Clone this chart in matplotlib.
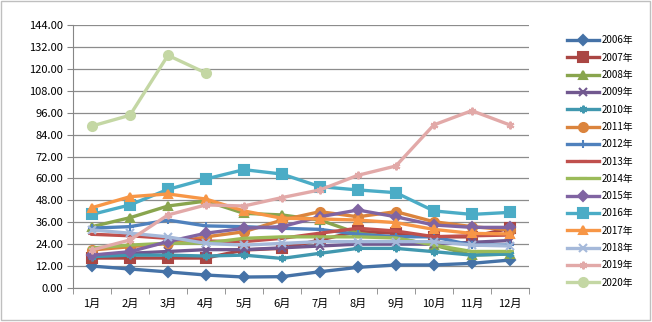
import numpy as np
import matplotlib.pyplot as plt
from matplotlib.patches import Rectangle

plt.rcParams['font.family'] = ['Noto Sans CJK SC', 'DejaVu Sans']

# 월 / 연도
months = ['1月', '2月', '3月', '4月', '5月', '6月', '7月', '8月', '9月', '10月', '11月', '12月']
years = ['2006年', '2007年', '2008年', '2009年', '2010年', '2011年', '2012年', '2013年',
         '2014年', '2015年', '2016年', '2017年', '2018年', '2019年', '2020年']

# 연도별 값
v2006 = [12.0, 10.4, 8.8, 7.1, 6.0, 6.2, 8.9, 11.3, 12.6, 12.6, 13.5, 15.3]
v2007 = [16.4, 16.4, 16.4, 16.4, 20.8, 21.7, 26.3, 31.0, 30.0, 28.0, 28.0, 32.7]
v2008 = [33.6, 38.5, 44.9, 47.6, 40.9, 40.0, 37.2, 30.0, 27.4, 23.5, 18.0, 18.6]
v2009 = [18.0, 19.0, 20.0, 21.0, 21.0, 22.0, 23.0, 24.0, 24.0, 24.0, 25.0, 26.0]
v2010 = [17.2, 18.0, 18.0, 17.5, 18.0, 16.2, 19.0, 21.7, 21.7, 19.9, 18.0, 18.6]
v2011 = [20.8, 22.6, 24.4, 28.0, 30.8, 37.2, 41.8, 39.0, 41.8, 36.3, 33.6, 31.8]
v2012 = [32.8, 33.6, 37.2, 34.0, 33.6, 32.7, 32.1, 29.4, 28.1, 28.0, 23.5, 23.5]
v2013 = [29.4, 28.6, 27.2, 25.7, 25.4, 27.2, 30.0, 32.7, 31.2, 28.1, 28.6, 29.0]
v2014 = [21.9, 23.5, 24.5, 24.6, 27.2, 28.0, 28.0, 28.0, 27.4, 23.5, 20.0, 20.0]
v2015 = [18.0, 19.9, 25.4, 30.0, 32.7, 33.6, 39.0, 42.7, 39.0, 34.5, 33.2, 33.2]
v2016 = [40.3, 45.5, 54.0, 59.7, 64.8, 62.4, 55.5, 53.7, 52.2, 42.2, 40.3, 41.4]
v2017 = [44.0, 50.0, 51.5, 48.7, 42.2, 38.2, 37.8, 37.2, 35.8, 32.1, 29.9, 29.6]
v2018 = [31.8, 30.0, 28.0, 24.4, 23.5, 24.4, 25.4, 25.4, 25.4, 25.4, 23.5, 23.0]
v2019 = [20.8, 26.3, 40.0, 45.5, 44.9, 49.5, 53.7, 61.7, 66.8, 89.3, 97.1, 89.3]
v2020 = [88.7, 94.6, 127.4, 117.7]

values = [v2006, v2007, v2008, v2009, v2010, v2011, v2012, v2013,
          v2014, v2015, v2016, v2017, v2018, v2019, v2020]

colors = ['#4572A7', '#AA4643', '#89A54E', '#71588F', '#4198AF', '#DB843D', '#4F81BD', '#C0504D',
          '#9BBB59', '#8064A2', '#4BACC6', '#F79646', '#A5B9DA', '#E2A9A8', '#C4D7A4']
markers = ['D', 's', '^', 'x', (6, 2, 0), 'o', '+', '_',
           '_', 'D', 's', '^', 'x', (6, 2, 0), 'o']

fig = plt.figure(figsize=(6.52, 3.22), dpi=100)
ax = fig.add_axes([0.112, 0.1056, 0.699, 0.8167])

x = np.arange(len(months))
for name, vals, c, m in zip(years, values, colors, markers):
    ms = 6.5 if m in ('s', 'o') else 5.5
    ax.plot(x[:len(vals)], vals, color=c, marker=m, markersize=ms, markeredgewidth=1.5,
            linewidth=2.4, label=name)

# 축 설정
ax.set_ylim(0, 144)
ax.set_yticks(np.arange(0, 145, 12))
ax.set_yticklabels([f'{t:.2f}' for t in np.arange(0, 145, 12)], fontsize=8)
ax.set_xlim(-0.5, 11.5)
ax.set_xticks(x)
ax.set_xticklabels(months, fontsize=8)
ax.set_xticks(np.arange(-0.5, 12, 1), minor=True)
ax.tick_params(axis='x', which='major', length=0, pad=8)
ax.tick_params(axis='x', which='minor', length=4, color='#868686', direction='out')
ax.tick_params(axis='y', length=4, color='#868686', direction='out', pad=3)
ax.yaxis.grid(True, color='#8C8C8C', linewidth=0.9)
ax.set_axisbelow(True)
for s in ['top', 'right']:
    ax.spines[s].set_visible(False)
ax.spines['left'].set_color('#868686')
ax.spines['bottom'].set_color('#868686')

# 범례
ax.legend(loc='upper left', bbox_to_anchor=(1.075, 0.975), frameon=False, fontsize=7,
          handlelength=3.3, labelspacing=0.75, handletextpad=0.3, borderaxespad=0)

# 바깥 테두리
fig.patches.append(Rectangle((0.002, 0.006), 0.995, 0.99, transform=fig.transFigure,
                             fill=False, edgecolor='#BFBFBF', linewidth=1))

plt.savefig('out.png', dpi=100)
